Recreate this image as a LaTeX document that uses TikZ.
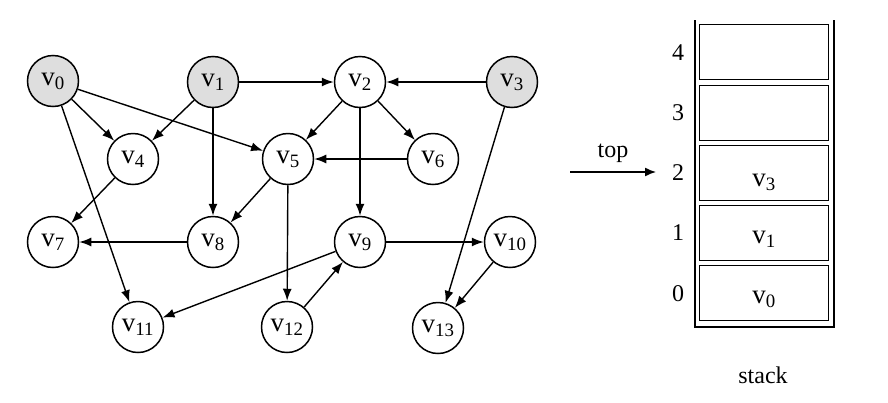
\documentclass[tikz,border=0pt]{standalone}
\usepackage{fontspec}
\setmainfont{Liberation Serif}
\usetikzlibrary{arrows.meta}
\begin{document}
\begin{tikzpicture}[x=1pt,y=-1pt,
  vert/.style={circle,draw,line width=1.5pt,minimum size=51pt,inner sep=0pt,font=\fontsize{27}{30}\selectfont},
  gvert/.style={vert,fill=black!13},
  edge/.style={line width=1.4pt,-{Latex[length=12pt,width=9pt]}},
  cell/.style={draw,line width=1.3pt,minimum width=129pt,minimum height=55pt,inner sep=0pt,anchor=north west},
  idx/.style={font=\fontsize{24}{27}\selectfont},
  lbl/.style={font=\fontsize{24}{27}\selectfont}]
\useasboundingbox (0,0) rectangle (888,402);
\node[gvert] (v0) at (53,81) {v\textsubscript{0}};
\node[gvert] (v1) at (213,82) {v\textsubscript{1}};
\node[vert] (v2) at (360,82) {v\textsubscript{2}};
\node[gvert] (v3) at (512,82) {v\textsubscript{3}};
\node[vert] (v4) at (133,159) {v\textsubscript{4}};
\node[vert] (v5) at (288,159) {v\textsubscript{5}};
\node[vert] (v6) at (433,159) {v\textsubscript{6}};
\node[vert] (v7) at (53,242) {v\textsubscript{7}};
\node[vert] (v8) at (213,242) {v\textsubscript{8}};
\node[vert] (v9) at (360,242) {v\textsubscript{9}};
\node[vert] (v10) at (510,242) {v\textsubscript{10}};
\node[vert] (v11) at (138,327) {v\textsubscript{11}};
\node[vert] (v12) at (287,327) {v\textsubscript{12}};
\node[vert] (v13) at (438,328) {v\textsubscript{13}};
\draw[edge] (v0) -- (v4);
\draw[edge] (v0) -- (v5);
\draw[edge] (v0) -- (v11);
\draw[edge] (v1) -- (v2);
\draw[edge] (v1) -- (v4);
\draw[edge] (v1) -- (v8);
\draw[edge] (v2) -- (v5);
\draw[edge] (v2) -- (v6);
\draw[edge] (v2) -- (v9);
\draw[edge] (v3) -- (v2);
\draw[edge] (v3) -- (v13);
\draw[edge] (v4) -- (v7);
\draw[edge] (v5) -- (v8);
\draw[edge] (v5) -- (v12);
\draw[edge] (v6) -- (v5);
\draw[edge] (v8) -- (v7);
\draw[edge] (v9) -- (v10);
\draw[edge] (v9) -- (v11);
\draw[edge] (v10) -- (v13);
\draw[edge] (v12) -- (v9);
% stack
\coordinate (wtl) at (695,20);
\coordinate (wbl) at (695,327);
\coordinate (wbr) at (834,327);
\coordinate (wtr) at (834,20);
\draw[line width=2.8pt] (wtl) -- (wbl) -- (wbr) -- (wtr);
\node[cell] (c4) at (699,24) {};
\node[cell] (c3) at (699,85) {};
\node[cell] (c2) at (699,145) {};
\node[cell] (c1) at (699,205) {};
\node[cell] (c0) at (699,265) {};
\node[vert,draw=none,minimum size=0pt] (s3) at ([yshift=-9pt]c2.center) {v\textsubscript{3}};
\node[vert,draw=none,minimum size=0pt] (s1) at ([yshift=-6pt]c1.center) {v\textsubscript{1}};
\node[vert,draw=none,minimum size=0pt] (s0) at ([yshift=-6pt]c0.center) {v\textsubscript{0}};
\node[idx] (i4) at (678,53) {4};
\node[idx] (i3) at (678,113) {3};
\node[idx] (i2) at (678,173) {2};
\node[idx] (i1) at (678,233) {1};
\node[idx] (i0) at (678,294) {0};
\coordinate (ts) at (570,172);
\coordinate (te) at (656,172);
\draw[line width=1.4pt,-{Latex[length=11pt,width=9pt]}] (ts) -- (te);
\node[lbl] (top) at (613,153) {top};
\node[lbl] (stk) at (763,375) {stack};
\end{tikzpicture}
\end{document}
